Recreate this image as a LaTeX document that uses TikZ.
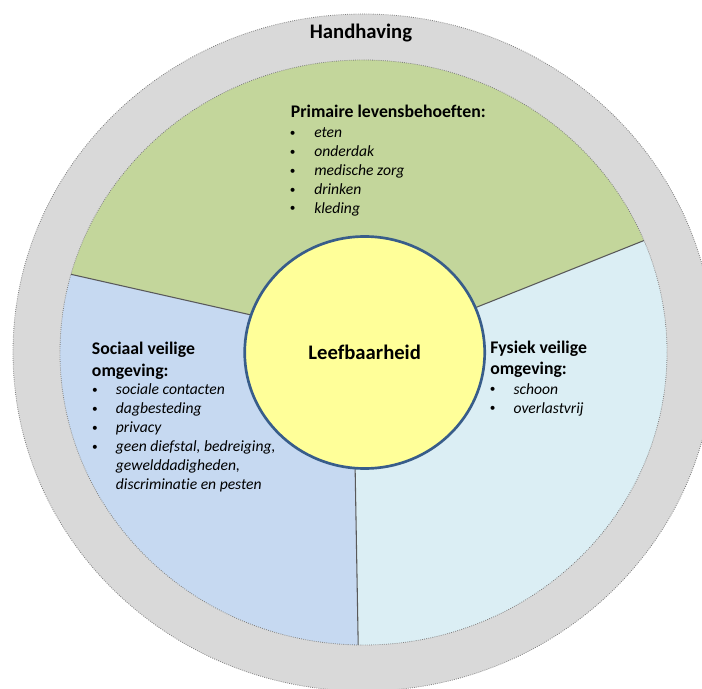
\documentclass[tikz,border=0pt]{standalone}
\usepackage{fontspec}
\setmainfont{Carlito}[Ligatures=NoCommon]
\usetikzlibrary{shapes.geometric}
\definecolor{ringgray}{HTML}{D9D9D9}
\definecolor{sectgreen}{HTML}{C3D69B}
\definecolor{sectblue}{HTML}{C6D9F1}
\definecolor{sectcyan}{HTML}{DBEEF4}
\definecolor{coreyellow}{HTML}{FFFF99}
\definecolor{coreblue}{HTML}{385D8A}
\begin{document}
\begin{tikzpicture}[x=0.75pt, y=0.75pt,
  bigtext/.style={font=\fontsize{15.5}{18}\selectfont\bfseries, inner sep=0pt},
  headtext/.style={font=\fontsize{13.3}{16}\selectfont\bfseries, inner sep=0pt, anchor=base west},
  itemtext/.style={font=\fontsize{11.7}{14}\selectfont\itshape, inner sep=0pt, anchor=base west},
  bul/.style={font=\fontsize{8.5}{10}\selectfont, inner sep=0pt, anchor=base, yshift=1pt},
  rim/.style={draw=black!50, line width=0.6pt, densely dotted},
  divider/.style={draw=black!65, line width=0.8pt}]
\useasboundingbox[fill=white] (-363.5,-335.5) rectangle (338.5,352.5);
\clip (-363.5,-335.5) rectangle (338.5,352.5);
% ring and sectors
\path[fill=ringgray, rim] (0,0) ellipse [x radius=350.5, y radius=338.5];
\coordinate (ne-in) at (22.5:120 and 116);
\coordinate (ne-out) at (22.5:303.5 and 292.5);
\coordinate (w-in) at (161:120 and 116);
\coordinate (w-out) at (164.5:303.5 and 292.5);
\coordinate (s-in) at (266:120 and 116);
\coordinate (s-out) at (269:303.5 and 292.5);
\fill[sectgreen] (ne-in) -- (ne-out) arc [start angle=22.5, end angle=164.5, x radius=303.5, y radius=292.5] -- (w-in) -- cycle;
\fill[sectblue] (w-in) -- (w-out) arc [start angle=164.5, end angle=269, x radius=303.5, y radius=292.5] -- (s-in) -- cycle;
\fill[sectcyan] (s-in) -- (s-out) arc [start angle=269, end angle=382.5, x radius=303.5, y radius=292.5] -- (ne-in) -- cycle;
\path[rim] (0,0) ellipse [x radius=303.5, y radius=292.5];
\path[divider] (ne-in) -- (ne-out);
\path[divider] (w-in) -- (w-out);
\path[divider] (s-in) -- (s-out);
% centre
\node[ellipse, fill=coreyellow, draw=coreblue, line width=2pt, minimum width=180pt, minimum height=174pt, bigtext] (core) at (1.2,0) {Leefbaarheid};
\node[bigtext, anchor=base] (hand) at (-2.5,313.5) {Handhaving};
% primaire levensbehoeften
\node[headtext] (prim-head) at (-72.8,234.8) {Primaire levensbehoeften:};
\node[bul] (prim-b1) at (-70.8,214.5) {\textbullet};
\node[bul] (prim-b2) at (-70.8,195.7) {\textbullet};
\node[bul] (prim-b3) at (-70.8,176.9) {\textbullet};
\node[bul] (prim-b4) at (-70.8,158.1) {\textbullet};
\node[bul] (prim-b5) at (-70.8,139.3) {\textbullet};
\node[itemtext] (prim-1) at (-49.5,214.5) {eten};
\node[itemtext] (prim-2) at (-49.5,195.7) {onderdak};
\node[itemtext] (prim-3) at (-49.5,176.9) {medische zorg};
\node[itemtext] (prim-4) at (-49.5,158.1) {drinken};
\node[itemtext] (prim-5) at (-49.5,139.3) {kleding};
% sociaal veilige omgeving
\node[headtext] (soc-head1) at (-271.8,-2.5) {Sociaal veilige};
\node[headtext] (soc-head2) at (-271.8,-24.2) {omgeving:};
\node[bul] (soc-b1) at (-268.5,-42.5) {\textbullet};
\node[bul] (soc-b2) at (-268.5,-61.3) {\textbullet};
\node[bul] (soc-b3) at (-268.5,-80.1) {\textbullet};
\node[bul] (soc-b4) at (-268.5,-98.9) {\textbullet};
\node[itemtext] (soc-1) at (-247.8,-42.5) {sociale contacten};
\node[itemtext] (soc-2) at (-247.8,-61.3) {dagbesteding};
\node[itemtext] (soc-3) at (-247.8,-80.1) {privacy};
\node[itemtext] (soc-4) at (-247.8,-98.9) {geen diefstal, bedreiging,};
\node[itemtext] (soc-5) at (-247.8,-117.7) {gewelddadigheden,};
\node[itemtext] (soc-6) at (-247.8,-136.5) {discriminatie en pesten};
% fysiek veilige omgeving
\node[headtext] (fys-head1) at (126.5,-1.5) {Fysiek veilige};
\node[headtext] (fys-head2) at (126.5,-22.5) {omgeving:};
\node[bul] (fys-b1) at (129.2,-41.8) {\textbullet};
\node[bul] (fys-b2) at (129.2,-60.8) {\textbullet};
\node[itemtext] (fys-1) at (149.8,-41.8) {schoon};
\node[itemtext] (fys-2) at (149.8,-60.8) {overlastvrij};
\end{tikzpicture}
\end{document}
